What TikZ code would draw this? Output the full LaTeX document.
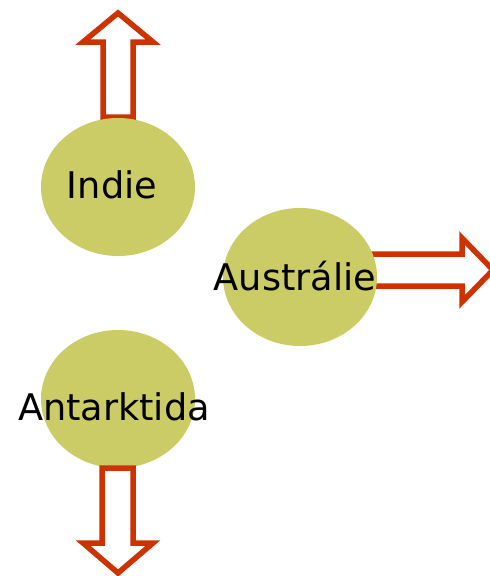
\documentclass[tikz,border=0pt]{standalone}
\usepackage{fontspec}
\setmainfont{DejaVu Sans}
\usetikzlibrary{shapes.geometric}
\definecolor{blob}{RGB}{204,204,102}
\definecolor{arr}{RGB}{204,51,0}
\begin{document}
\begin{tikzpicture}[x=1pt,y=-1pt,
  plate/.style={ellipse,fill=blob,draw=none,minimum width=154pt,minimum height=138pt,inner sep=0pt},
  lbl/.style={font=\fontsize{36.7}{42}\selectfont,text=black,inner sep=0pt},
  bigarrow/.style={draw=arr,fill=white,line width=5.5pt,line join=miter}]
\useasboundingbox (0,0) rectangle (490,576);
% up arrow
\draw[bigarrow] (103,117) -- (103,42) -- (83,42) -- (118,13) -- (153,42) -- (133,42) -- (133,117) -- cycle;
% right arrow
\draw[bigarrow] (360,254) -- (462,254) -- (462,238) -- (493,270) -- (462,302) -- (462,286) -- (360,286) -- cycle;
\node[plate] (indie) at (118,187) {};
\node[plate] (aus) at (300,277) {};
\node[plate] (ant) at (118,399) {};
% down arrow
\draw[bigarrow] (102,468) -- (102,543) -- (83,543) -- (118,573) -- (153,543) -- (133,543) -- (133,468) -- cycle;
\node[lbl] (tindie) at (112,185) {Indie};
\node[lbl] (taus) at (295,276) {Austrálie};
\node[lbl] (tant) at (114,407) {Antarktida};
\end{tikzpicture}
\end{document}
